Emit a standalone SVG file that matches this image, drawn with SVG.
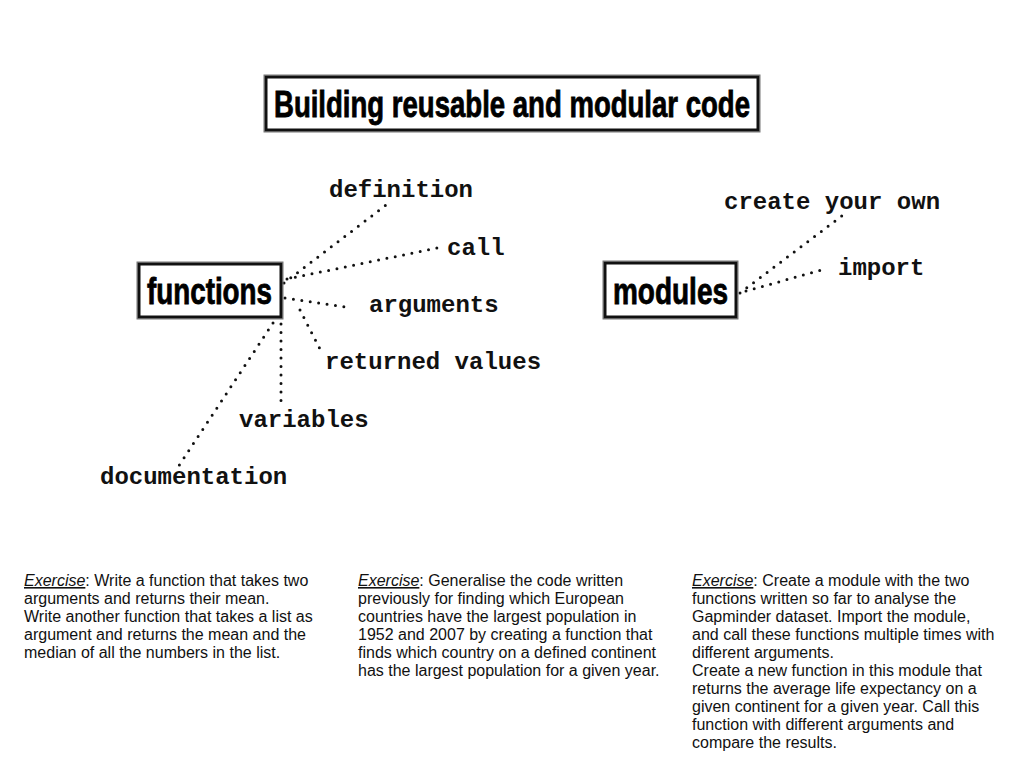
<svg xmlns="http://www.w3.org/2000/svg" width="1024" height="768" viewBox="0 0 1024 768">
<style>
.box{fill:#fff;stroke:#111;stroke-width:3}
.box2{fill:none;stroke:#777;stroke-width:1}
.head{font-family:"Liberation Sans Narrow","Liberation Sans",Arial,sans-serif;font-weight:bold;fill:#000;stroke:#000;stroke-width:0.8}
.lbl{font-family:"Liberation Mono","Courier New",monospace;font-weight:bold;font-size:24px;fill:#111}
.dot{fill:none;stroke:#111;stroke-width:3;stroke-linecap:round;stroke-dasharray:0 8.5}
.ex{font-family:"Liberation Sans",Arial,sans-serif;font-size:16px;fill:#111}
.u{font-style:italic;text-decoration:underline}
</style>
<rect width="1024" height="768" fill="#fff"/>
<g id="title">
<rect class="box2" x="264" y="75" width="496" height="57"/>
<rect class="box" x="266" y="77" width="492" height="53"/>
<text class="head" x="274" y="117" font-size="36" textLength="476" lengthAdjust="spacingAndGlyphs">Building reusable and modular code</text>
</g>
<g id="connectors">
<line class="dot" x1="284" y1="283" x2="390" y2="202"/>
<line class="dot" x1="287" y1="279" x2="437" y2="248"/>
<line class="dot" x1="285" y1="298" x2="352" y2="308"/>
<line class="dot" x1="300" y1="310" x2="322" y2="353"/>
<line class="dot" x1="281" y1="324" x2="281" y2="406"/>
<line class="dot" x1="273" y1="323" x2="178" y2="467"/>
<line class="dot" x1="740" y1="293" x2="847" y2="212"/>
<line class="dot" x1="746" y1="291" x2="825" y2="269"/>
</g>
<g id="functions">
<rect class="box2" x="137" y="262" width="146" height="57"/>
<rect class="box" x="139" y="264" width="142" height="53"/>
<text class="head" x="147" y="304" font-size="36" textLength="125" lengthAdjust="spacingAndGlyphs">functions</text>
</g>
<g id="modules">
<rect class="box2" x="603" y="261" width="135" height="58"/>
<rect class="box" x="605" y="263" width="131" height="54"/>
<text class="head" x="613" y="304" font-size="36" textLength="115" lengthAdjust="spacingAndGlyphs">modules</text>
</g>
<g id="definition"><text class="lbl" x="329" y="197">definition</text></g>
<g id="call"><text class="lbl" x="447" y="255">call</text></g>
<g id="arguments"><text class="lbl" x="369" y="312">arguments</text></g>
<g id="returned"><text class="lbl" x="325" y="369">returned values</text></g>
<g id="variables"><text class="lbl" x="239" y="427">variables</text></g>
<g id="documentation"><text class="lbl" x="100" y="484">documentation</text></g>
<g id="create"><text class="lbl" x="724" y="209">create your own</text></g>
<g id="import"><text class="lbl" x="838" y="275">import</text></g>
<g id="ex1">
<text class="ex" x="24" y="586"><tspan class="u">Exercise</tspan>: Write a function that takes two</text>
<text class="ex" x="24" y="604">arguments and returns their mean.</text>
<text class="ex" x="24" y="622">Write another function that takes a list as</text>
<text class="ex" x="24" y="640">argument and returns the mean and the</text>
<text class="ex" x="24" y="658">median of all the numbers in the list.</text>
</g>
<g id="ex2">
<text class="ex" x="358" y="586"><tspan class="u">Exercise</tspan>: Generalise the code written</text>
<text class="ex" x="358" y="604">previously for finding which European</text>
<text class="ex" x="358" y="622">countries have the largest population in</text>
<text class="ex" x="358" y="640">1952 and 2007 by creating a function that</text>
<text class="ex" x="358" y="658">finds which country on a defined continent</text>
<text class="ex" x="358" y="676">has the largest population for a given year.</text>
</g>
<g id="ex3">
<text class="ex" x="692" y="586"><tspan class="u">Exercise</tspan>: Create a module with the two</text>
<text class="ex" x="692" y="604">functions written so far to analyse the</text>
<text class="ex" x="692" y="622">Gapminder dataset. Import the module,</text>
<text class="ex" x="692" y="640">and call these functions multiple times with</text>
<text class="ex" x="692" y="658">different arguments.</text>
<text class="ex" x="692" y="676">Create a new function in this module that</text>
<text class="ex" x="692" y="694">returns the average life expectancy on a</text>
<text class="ex" x="692" y="712">given continent for a given year. Call this</text>
<text class="ex" x="692" y="730">function with different arguments and</text>
<text class="ex" x="692" y="748">compare the results.</text>
</g>
</svg>
